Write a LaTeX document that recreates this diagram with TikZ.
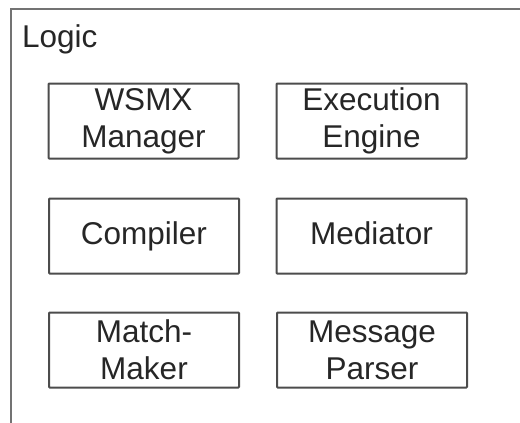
\documentclass[tikz,border=0pt]{standalone}
\usepackage{fontspec}
\setmainfont{Liberation Sans}
\begin{document}
\begin{tikzpicture}[x=1pt,y=-1pt,
  component/.style={draw=black!70, line width=2pt, rounded corners=0.8pt,
    minimum width=190pt, minimum height=75pt, inner sep=0pt,
    align=center, text=black!85,
    font=\fontsize{31.5}{37}\selectfont},
  oneline/.style={component, text height=23pt, text depth=7pt},
  frameline/.style={draw=black!55, line width=2.2pt}]
  \useasboundingbox (0,0) rectangle (520,423);
  % package frame, open at the bottom and right
  \draw[frameline] (11,430) -- (11,9) -- (530,9);
  \node[anchor=base west, inner sep=0pt, text=black!85,
        font=\fontsize{31.5}{37}\selectfont] (title) at (22,47) {Logic};
  % components
  \node[component] (wsmx) at (143.5,121) {WSMX\\Manager};
  \node[component] (exec) at (371.5,121) {Execution\\Engine};
  \node[oneline] (comp) at (144,236) {Compiler};
  \node[oneline] (med)  at (371.5,236) {Mediator};
  \node[component] (match) at (144,350) {Match-\\Maker};
  \node[component] (parse) at (372,350) {Message\\Parser};
\end{tikzpicture}
\end{document}
